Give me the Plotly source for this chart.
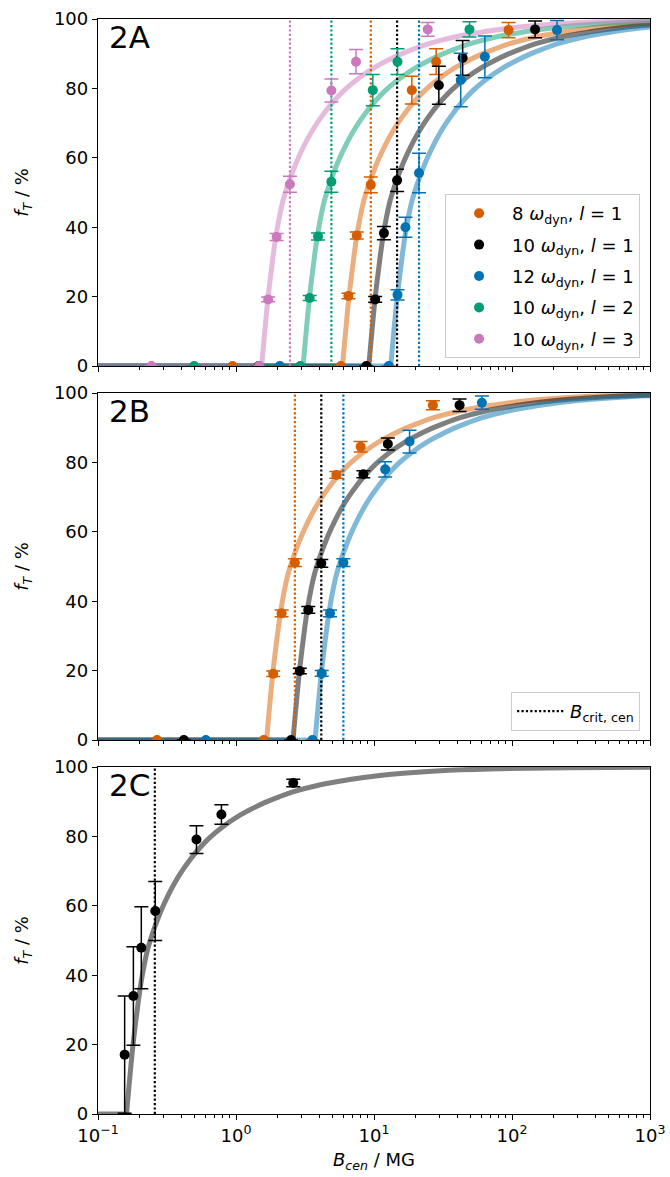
import plotly.graph_objects as go
from plotly.subplots import make_subplots

# ---------------- data ----------------
# fitted-curve shape: log10(B / B_crit) and f_T (%)
curve_logr = [-0.205, -0.19, -0.175, -0.16, -0.14, -0.12, -0.10, -0.075, -0.05, -0.025, 0.0,
              0.05, 0.10, 0.15, 0.20, 0.25, 0.30, 0.40, 0.50, 0.60, 0.70, 0.80, 0.90, 1.00,
              1.20, 1.40, 1.60, 1.80, 2.10, 2.50, 3.00, 3.70]
curve_f = [0, 6.7, 13.1, 19.2, 26.0, 32.3, 37.8, 43.3, 47.7, 51.0, 53.9,
           59.0, 63.3, 67.0, 70.2, 73.0, 75.5, 79.7, 83.0, 85.7, 87.9, 89.8, 91.4, 92.8,
           94.9, 96.3, 97.4, 98.2, 99.0, 99.5, 99.8, 99.95]

# Panel 2A
A_orange_B = [0.944, 5.75, 6.52, 7.50, 9.48, 18.8, 28.2, 94.4]
A_orange_f = [0, 0, 20.2, 37.6, 52.2, 79.5, 87.7, 96.8]
A_orange_e = [0, 0, 0.8, 1.0, 2.3, 4.0, 3.7, 2.2]
A_black_B = [1.46, 8.8, 10.2, 11.8, 14.7, 29.5, 43.9, 147]
A_black_f = [0, 0, 19.2, 38.3, 53.5, 80.9, 88.8, 97.0]
A_black_e = [0, 0, 0.8, 1.9, 3.2, 5.5, 5.0, 2.4]
A_blue_B = [2.08, 12.8, 14.8, 16.9, 21.2, 42.5, 63.6, 212]
A_blue_f = [0, 0, 20.5, 40.0, 55.6, 82.4, 89.1, 96.8]
A_blue_e = [0, 0, 1.5, 2.9, 5.7, 7.7, 6.0, 2.8]
A_green_B = [0.497, 2.92, 3.42, 3.93, 4.91, 9.8, 14.8, 49.2]
A_green_f = [0, 0, 19.6, 37.3, 53.1, 79.5, 87.7, 97.0]
A_green_e = [0, 0, 0.7, 1.0, 3.0, 4.5, 3.7, 2.2]
A_pink_B = [0.244, 1.47, 1.71, 1.97, 2.46, 4.91, 7.41, 24.5]
A_pink_f = [0, 0, 19.2, 37.2, 52.4, 79.4, 87.7, 97.0]
A_pink_e = [0, 0, 0.7, 1.0, 2.3, 3.3, 3.5, 2.0]
A_crit = {"orange": 9.48, "black": 14.7, "blue": 21.2, "green": 4.91, "pink": 2.46}

# Panel 2B
B_orange_B = [0.268, 1.59, 1.86, 2.14, 2.67, 5.33, 8.0, 26.7]
B_orange_f = [0, 0, 19.1, 36.5, 51.1, 76.4, 84.5, 96.5]
B_orange_e = [0, 0, 0.8, 1.0, 1.1, 1.0, 1.5, 1.3]
B_black_B = [0.419, 2.51, 2.90, 3.34, 4.15, 8.37, 12.6, 41.7]
B_black_f = [0, 0, 19.9, 37.5, 50.9, 76.6, 85.3, 96.5]
B_black_e = [0, 0, 0.8, 1.0, 1.1, 1.0, 1.7, 1.8]
B_blue_B = [0.605, 3.58, 4.18, 4.80, 6.0, 12.05, 18.1, 60.5]
B_blue_f = [0, 0, 19.2, 36.5, 51.1, 78.0, 86.0, 97.2]
B_blue_e = [0, 0, 0.8, 1.0, 1.1, 2.2, 3.3, 1.9]
B_crit = {"orange": 2.67, "black": 4.15, "blue": 6.0}

# Panel 2C
C_B = [0.156, 0.1805, 0.206, 0.2600, 0.517, 0.784, 2.60]
C_f = [17.1, 34.0, 47.9, 58.5, 79.1, 86.3, 95.4]
C_e = [16.9, 14.2, 11.8, 8.5, 4.0, 2.8, 1.1]
C_crit = 0.258

legend_names = {
    "orange": "8 <i>ω</i><sub>dyn</sub>, <i>l</i> = 1",
    "black": "10 <i>ω</i><sub>dyn</sub>, <i>l</i> = 1",
    "blue": "12 <i>ω</i><sub>dyn</sub>, <i>l</i> = 1",
    "green": "10 <i>ω</i><sub>dyn</sub>, <i>l</i> = 2",
    "pink": "10 <i>ω</i><sub>dyn</sub>, <i>l</i> = 3",
}
x_tickvals = [0.1, 1, 10, 100, 1000]
x_ticktext = ["10<sup>−1</sup>", "10<sup>0</sup>", "10<sup>1</sup>", "10<sup>2</sup>", "10<sup>3</sup>"]
y_tickvals = [0, 20, 40, 60, 80, 100]

# ---------------- styling ----------------
COL = {"orange": "#D55E00", "black": "#000000", "blue": "#0173B2",
       "green": "#029E73", "pink": "#CC78BC"}
FAINT = {"orange": "rgba(213,94,0,0.5)", "black": "rgba(0,0,0,0.5)",
         "blue": "rgba(1,115,178,0.5)", "green": "rgba(2,158,115,0.5)",
         "pink": "rgba(204,120,188,0.5)"}
FONT = "DejaVu Sans"

fig = make_subplots(rows=3, cols=1, shared_xaxes=True, vertical_spacing=0.02)


def curve(row, key, crit):
    xs = [crit * 10 ** l for l in curve_logr]
    # flat part at zero, from the left edge up to the curve's foot
    fig.add_trace(go.Scatter(x=[0.1, xs[0]], y=[0, 0], mode="lines",
                             line=dict(color=FAINT[key], width=5),
                             showlegend=False, hoverinfo="skip"), row=row, col=1)
    fig.add_trace(go.Scatter(x=xs, y=curve_f, mode="lines",
                             line=dict(color=FAINT[key], width=5, shape="spline", smoothing=1.0),
                             showlegend=False, hoverinfo="skip"), row=row, col=1)


def crit_line(row, key, crit, legend=None):
    fig.add_trace(go.Scatter(x=[crit, crit], y=[0, 100], mode="lines",
                             line=dict(color=COL[key], width=2.2, dash="2.2px,2.2px"),
                             name="<i>B</i><sub>crit, cen</sub>",
                             showlegend=legend is not None,
                             legend=legend if legend else "legend",
                             hoverinfo="skip"), row=row, col=1)


def points(row, key, xs, ys, es, show=False):
    fig.add_trace(go.Scatter(x=xs, y=ys, mode="markers",
                             marker=dict(color=COL[key], size=10),
                             error_y=dict(type="data", array=es, visible=True,
                                          color=COL[key], thickness=1.5, width=7),
                             name=legend_names[key], legendgroup=key,
                             showlegend=show), row=row, col=1)


A_data = {"orange": (A_orange_B, A_orange_f, A_orange_e),
          "black": (A_black_B, A_black_f, A_black_e),
          "blue": (A_blue_B, A_blue_f, A_blue_e),
          "green": (A_green_B, A_green_f, A_green_e),
          "pink": (A_pink_B, A_pink_f, A_pink_e)}
B_data = {"orange": (B_orange_B, B_orange_f, B_orange_e),
          "black": (B_black_B, B_black_f, B_black_e),
          "blue": (B_blue_B, B_blue_f, B_blue_e)}

# Panel A
for k in A_data:
    curve(1, k, A_crit[k])
for k in A_data:
    crit_line(1, k, A_crit[k])
for k, (xs, ys, es) in A_data.items():
    points(1, k, xs, ys, es, show=True)

# Panel B
for k in B_data:
    curve(2, k, B_crit[k])
for k in B_data:
    crit_line(2, k, B_crit[k], legend="legend2" if k == "black" else None)
for k, (xs, ys, es) in B_data.items():
    points(2, k, xs, ys, es)

# Panel C
curve(3, "black", C_crit)
crit_line(3, "black", C_crit)
points(3, "black", C_B, C_f, C_e)

# ---------------- layout ----------------
H_plot = 1095.0
doms = [[(1114 - 366) / H_plot, 1.0],
        [(1114 - 740) / H_plot, (1114 - 393) / H_plot],
        [0.0, (1114 - 767) / H_plot]]

axis_common = dict(showline=True, linecolor="black", linewidth=1.3, mirror=True,
                   ticks="outside", tickcolor="black", tickwidth=1.1, ticklen=5,
                   showgrid=False, zeroline=False, automargin=False,
                   tickfont=dict(family=FONT, size=18, color="black"))

minor_vals = [m * 10 ** p for p in range(-1, 3) for m in range(2, 10)]
for i in range(1, 4):
    xa = "xaxis" if i == 1 else f"xaxis{i}"
    ya = "yaxis" if i == 1 else f"yaxis{i}"
    fig.layout[xa].update(type="log", range=[-1, 3], tickmode="array",
                          tickvals=x_tickvals, ticktext=x_ticktext,
                          showticklabels=(i == 3),
                          minor=dict(tickmode="array", tickvals=minor_vals, ticks="outside",
                                     ticklen=3, tickcolor="black", tickwidth=0.8),
                          **axis_common)
    fig.layout[ya].update(range=[0, 100], tickmode="array", tickvals=y_tickvals,
                          domain=doms[i - 1],
                          title=dict(text="<i>f</i><sub><i>T</i></sub> / %",
                                     font=dict(family=FONT, size=18, color="black"),
                                     standoff=20),
                          **axis_common)

fig.layout.xaxis3.title = dict(text="<i>B<sub>cen</sub></i> / MG",
                               font=dict(family=FONT, size=18, color="black"), standoff=8)

for i, lab in enumerate(["2A", "2B", "2C"]):
    suf = "" if i == 0 else str(i + 1)
    fig.add_annotation(text=lab, xref=f"x{suf} domain", yref=f"y{suf} domain",
                       x=0.016, y=1.005, xanchor="left", yanchor="top", showarrow=False,
                       font=dict(family=FONT, size=31, color="black"))

fig.update_layout(
    width=670, height=1177,
    margin=dict(l=98, r=20, t=19, b=63, autoexpand=False),
    paper_bgcolor="white", plot_bgcolor="white",
    font=dict(family=FONT, size=18, color="black"),
    legend=dict(x=0.982, y=(1114 - 358) / H_plot, xanchor="right", yanchor="bottom",
                bgcolor="rgba(255,255,255,0.9)", bordercolor="rgba(0,0,0,0.2)", borderwidth=1,
                font=dict(family=FONT, size=18, color="black"), tracegroupgap=5,
                itemwidth=56),
    legend2=dict(x=0.982, y=(1114 - 731) / H_plot, xanchor="right", yanchor="bottom",
                 bgcolor="rgba(255,255,255,0.9)", bordercolor="rgba(0,0,0,0.2)", borderwidth=1,
                 font=dict(family=FONT, size=18, color="black"), itemwidth=48),
)

fig.write_html("out.html")
